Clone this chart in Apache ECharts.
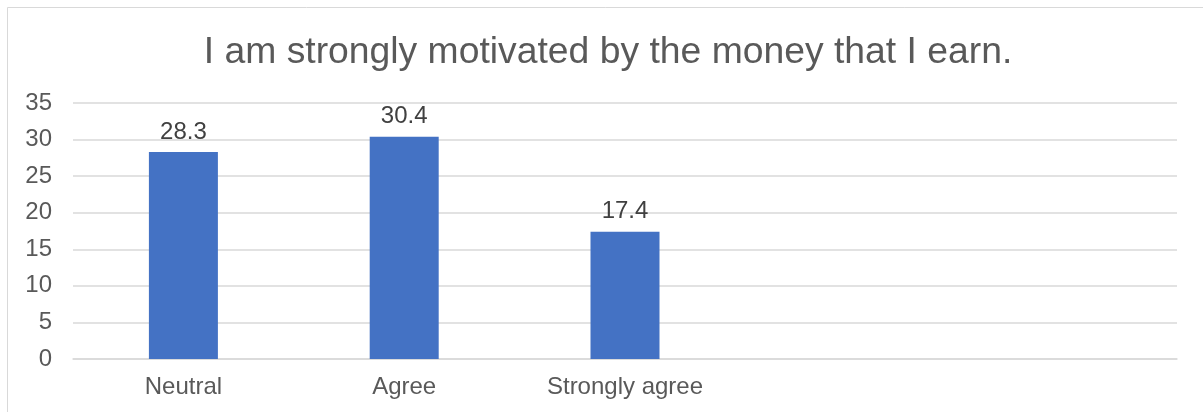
<!DOCTYPE html>
<html>
<head>
<meta charset="utf-8">
<script src="https://cdn.jsdelivr.net/npm/echarts@6/dist/echarts.min.js"></script>
<style>
  html, body { margin: 0; padding: 0; background: #fff; }
  #chart { width: 1203px; height: 412px; }
</style>
</head>
<body>
<div id="chart"></div>
<script>
// Survey responses for the statement in the title (percent)
const categories = ['Neutral', 'Agree', 'Strongly agree', '', ''];
const values = [28.3, 30.4, 17.4, null, null];
const yTicks = { min: 0, max: 35, interval: 5 };
const titleText = 'I am strongly motivated by the money that I earn.';

const FONT = 'Liberation Sans, Arial, sans-serif';

const chart = echarts.init(document.getElementById('chart'), null, { renderer: 'canvas' });
chart.setOption({
  animation: false,
  backgroundColor: '#fff',
  graphic: [{
    type: 'rect',
    shape: { x: 7.5, y: 7.5, width: 1300, height: 500 },
    style: { fill: 'none', stroke: '#d9d9d9', lineWidth: 1 },
    silent: true,
    z: -1
  }],
  title: {
    text: titleText,
    left: 603,
    textAlign: 'center',
    top: 29,
    textStyle: {
      fontFamily: FONT,
      fontSize: 37.3,
      fontWeight: 'normal',
      color: '#595959'
    }
  },
  grid: { left: 73, right: 26, top: 103, bottom: 53, containLabel: false },
  xAxis: {
    type: 'category',
    data: categories,
    axisLine: { show: true, lineStyle: { color: '#d9d9d9', width: 1.5 } },
    axisTick: { show: false },
    axisLabel: {
      color: '#595959',
      fontFamily: FONT,
      fontSize: 24,
      margin: 16
    }
  },
  yAxis: {
    type: 'value',
    min: yTicks.min,
    max: yTicks.max,
    interval: yTicks.interval,
    axisLine: { show: false },
    axisTick: { show: false },
    splitLine: { lineStyle: { color: '#d9d9d9', width: 1.5 } },
    axisLabel: {
      color: '#595959',
      fontFamily: FONT,
      fontSize: 24,
      margin: 21
    }
  },
  series: [{
    type: 'bar',
    data: values,
    barWidth: 69,
    itemStyle: { color: '#4472c4' },
    label: {
      show: true,
      position: 'top',
      distance: 8,
      color: '#404040',
      fontFamily: FONT,
      fontSize: 24,
      formatter: p => p.value.toFixed(1)
    }
  }]
});
</script>
</body>
</html>
